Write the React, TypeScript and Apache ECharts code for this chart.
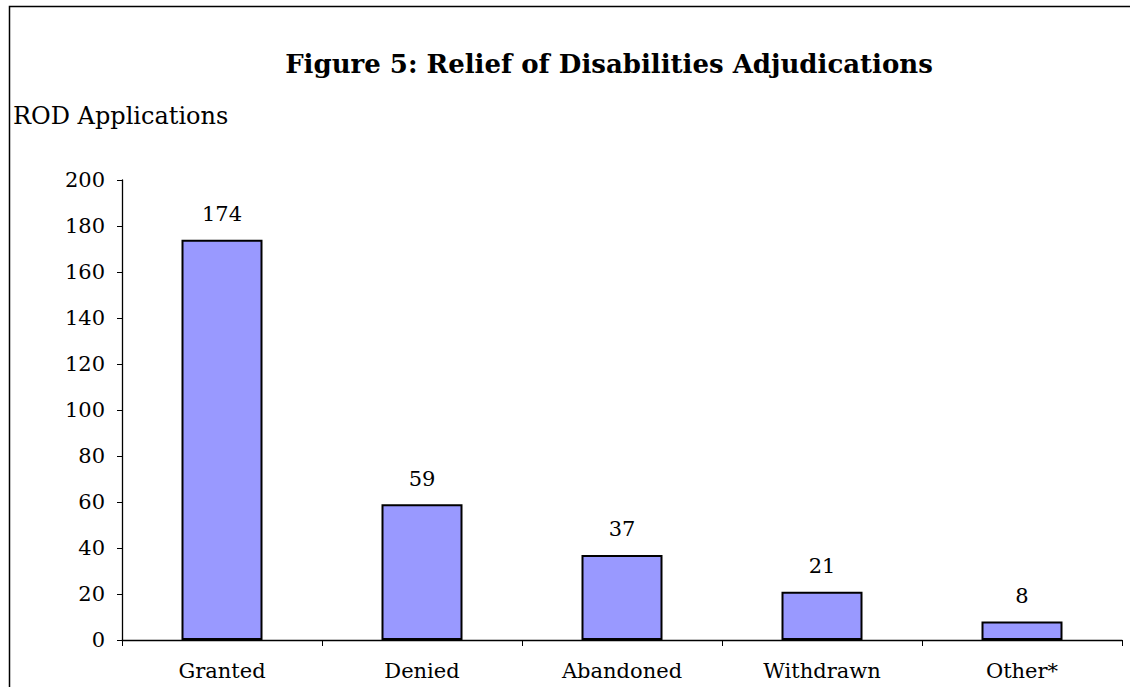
import React, { useEffect, useRef } from "react";
import * as echarts from "echarts";

const categories = ["Granted", "Denied", "Abandoned", "Withdrawn", "Other*"];
const values = [174, 59, 37, 21, 8];
const titleText = "Figure 5: Relief of Disabilities Adjudications";
const yAxisTitle = "ROD Applications";

const FONT = "DejaVu Serif";

export default function App() {
  const ref = useRef<HTMLDivElement>(null);
  useEffect(() => {
    const chart = echarts.init(ref.current!, null, { renderer: "svg" });
    chart.setOption({
      animation: false,
      backgroundColor: "#ffffff",
      textStyle: { fontFamily: FONT },
      title: {
        text: titleText,
        left: 604,
        top: 46,
        textAlign: "center",
        textStyle: { fontFamily: FONT, fontWeight: "bold", fontSize: 26, color: "#000" },
      },
      graphic: [
        {
          type: "polyline",
          shape: { points: [[9.5, 687], [9.5, 6.5], [1130, 6.5]] },
          style: { stroke: "#000", lineWidth: 1.5, fill: "none" },
        },
        {
          type: "text",
          left: 13,
          top: 104,
          style: { text: yAxisTitle, font: `24px '${FONT}'`, fill: "#000" },
        },
      ],
      grid: { left: 122, right: 8, top: 180, bottom: 47, containLabel: false },
      xAxis: {
        type: "category",
        data: categories,
        axisLine: { lineStyle: { color: "#000", width: 1.3 } },
        axisTick: { show: true, length: 6, lineStyle: { color: "#000" } },
        axisLabel: { color: "#000", fontFamily: FONT, fontSize: 21, margin: 20 },
      },
      yAxis: {
        type: "value",
        min: 0,
        max: 200,
        interval: 20,
        splitLine: { show: false },
        axisLine: { show: true, lineStyle: { color: "#000", width: 1.3 } },
        axisTick: { show: true, length: 5, lineStyle: { color: "#000" } },
        axisLabel: { color: "#000", fontFamily: FONT, fontSize: 21, margin: 17 },
      },
      series: [
        {
          type: "bar",
          data: values,
          barWidth: "40.5%",
          itemStyle: { color: "#9999FF", borderColor: "#000", borderWidth: 2 },
          label: {
            show: true,
            position: "top",
            distance: 15,
            color: "#000",
            fontFamily: FONT,
            fontSize: 21,
          },
        },
      ],
    });
    return () => chart.dispose();
  }, []);
  return (
    <div
      ref={ref}
      style={{ position: "absolute", left: 0, top: 0, width: 1130, height: 687 }}
    />
  );
}
